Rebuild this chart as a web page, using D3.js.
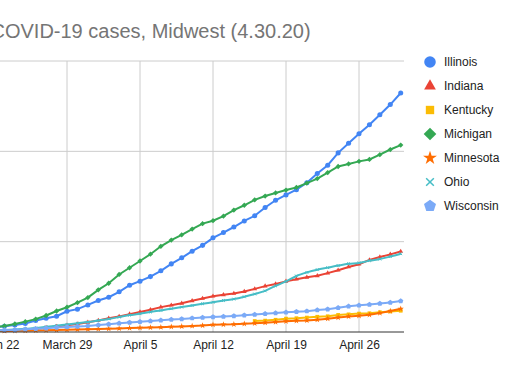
<!DOCTYPE html>
<html>
<head>
<meta charset="utf-8">
<script src="https://cdn.jsdelivr.net/npm/d3@7"></script>
<style>
  body { margin: 0; background: #fff; }
  svg { font-family: Arial, "Liberation Sans", sans-serif; display: block; }
</style>
</head>
<body>
<svg id="chart" width="520" height="371"></svg>
<script>
// days run from March 20 to April 30, 2020
const firstDay = new Date(2020, 2, 20);
const lastDay = new Date(2020, 3, 30);
const days = d3.timeDay.range(firstDay, d3.timeDay.offset(lastDay, 1));

const states = ['Illinois', 'Indiana', 'Kentucky', 'Michigan', 'Minnesota', 'Ohio', 'Wisconsin'];

const illinois = [585, 753, 1049, 1285, 1535, 1865, 2538, 3024, 3491, 4596, 5057, 5994,
  6980, 7695, 8904, 10357, 11256, 12262, 13549, 15078, 16422, 17887,
  19180, 20852, 22025, 23247, 24593, 25733, 27575, 29160, 30357, 31508,
  33059, 35108, 36934, 39658, 41777, 43903, 45883, 48102, 50355, 52918];
const indiana = [79, 126, 201, 259, 365, 477, 645, 981, 1232, 1513, 1786, 2159,
  2565, 3039, 3437, 3953, 4411, 4944, 5507, 5943, 6351, 6907,
  7435, 7928, 8236, 8527, 8960, 9542, 10154, 10641, 11210, 11686,
  12097, 12438, 13039, 13680, 14395, 15012, 15961, 16588, 17182, 17835];
const kentucky = [null, null, null, null, null, null, null, null, null, null, null, null,
  null, null, null, null, null, null, null, null, null, null,
  null, null, null, null, null, 2429, 2522, 2707, 2960, 3050,
  3192, 3373, 3481, 3779, 3905, 4074, 4146, 4375, 4539, 4708];
const michigan = [549, 787, 1035, 1328, 1791, 2294, 2856, 3657, 4650, 5486, 6498, 7615,
  9334, 10791, 12744, 14225, 15718, 17221, 18970, 20346, 21504, 22783,
  23993, 24638, 25635, 27001, 28059, 29263, 30100, 30791, 31424, 32000,
  32967, 33966, 35291, 36641, 37203, 37778, 38210, 39262, 40399, 41379];
const minnesota = [115, 138, 169, 235, 262, 287, 346, 398, 441, 503, 576, 629,
  689, 742, 789, 865, 935, 986, 1069, 1154, 1242, 1336,
  1427, 1621, 1650, 1695, 1809, 1912, 2071, 2213, 2356, 2470,
  2567, 2721, 2942, 3185, 3446, 3602, 3816, 4181, 4644, 5136];
const ohio = [169, 247, 351, 442, 564, 704, 867, 1137, 1406, 1653, 1933, 2199,
  2547, 2902, 3312, 3739, 4043, 4450, 4782, 5148, 5512, 5878,
  6250, 6604, 6975, 7285, 7794, 8414, 9107, 10222, 11200, 12400,
  13200, 13800, 14250, 14700, 15100, 15300, 15800, 16150, 16700, 17330];
const wisconsin = [206, 281, 381, 416, 457, 585, 707, 842, 989, 1112, 1221, 1351,
  1550, 1730, 1916, 2112, 2267, 2440, 2578, 2756, 2885, 3068,
  3213, 3341, 3428, 3555, 3721, 3875, 4045, 4199, 4346, 4499,
  4620, 4845, 5052, 5356, 5687, 5911, 6081, 6289, 6520, 6854];

const xTicks = [new Date(2020, 2, 22), new Date(2020, 2, 29), new Date(2020, 3, 5),
  new Date(2020, 3, 12), new Date(2020, 3, 19), new Date(2020, 3, 26)];
const yTicks = [0, 20000, 40000, 60000];

// pentagon and square diamond markers, d3 has neither
const symbolPentagon = {
  draw(ctx, size) {
    const r = Math.sqrt(size / 2.378);
    for (let i = 0; i < 5; i++) {
      const a = -Math.PI / 2 + i * 2 * Math.PI / 5;
      const px = r * Math.cos(a), py = r * Math.sin(a);
      if (i === 0) ctx.moveTo(px, py); else ctx.lineTo(px, py);
    }
    ctx.closePath();
  }
};
const symbolRhomb = {
  draw(ctx, size) {
    const r = Math.sqrt(size / 2);
    ctx.moveTo(0, -r); ctx.lineTo(r, 0); ctx.lineTo(0, r); ctx.lineTo(-r, 0);
    ctx.closePath();
  }
};

const series = [
  {name: 'Illinois', values: illinois, color: '#4285f4', shape: d3.symbolCircle, size: 20, legendSize: 105},
  {name: 'Indiana', values: indiana, color: '#ea4335', shape: d3.symbolTriangle, size: 10, legendSize: 60},
  {name: 'Kentucky', values: kentucky, color: '#fbbc04', shape: d3.symbolSquare, size: 14, legendSize: 70},
  {name: 'Michigan', values: michigan, color: '#34a853', shape: symbolRhomb, size: 14, legendSize: 80},
  {name: 'Minnesota', values: minnesota, color: '#ff6d01', shape: d3.symbolStar, size: 12, legendSize: 60},
  {name: 'Ohio', values: ohio, color: '#46bdc6', shape: d3.symbolX, size: 6, legendSize: 40, stroke: true},
  {name: 'Wisconsin', values: wisconsin, color: '#7baaf7', shape: symbolPentagon, size: 18, legendSize: 95}
];

const svg = d3.select('#chart');
const plotTop = 61, plotBottom = 332, plotRight = 404;

const x = d3.scaleTime()
  .domain([new Date(2020, 2, 29), new Date(2020, 3, 26)])
  .range([67, 359]);
const y = d3.scaleLinear().domain([0, 60000]).range([plotBottom, plotTop]);

svg.append('rect').attr('width', 520).attr('height', 371).attr('fill', '#fff');

// title (cut off on the left like the source)
svg.append('text')
  .attr('x', -9.5)
  .attr('y', 38)
  .attr('fill', '#757575')
  .style('font-size', '20px')
  .text('COVID-19 cases, Midwest (4.30.20)');

// grid
svg.append('g').selectAll('line').data(yTicks.slice(1)).join('line')
  .attr('x1', -20).attr('x2', plotRight)
  .attr('y1', d => y(d)).attr('y2', d => y(d))
  .attr('stroke', '#cccccc');
svg.append('g').selectAll('line').data(xTicks).join('line')
  .attr('x1', d => x(d)).attr('x2', d => x(d))
  .attr('y1', plotTop).attr('y2', plotBottom)
  .attr('stroke', '#cccccc');

// x axis labels
const xAxis = d3.axisBottom(x)
  .tickValues(xTicks)
  .tickFormat(d3.timeFormat('%B %-d'))
  .tickSize(0)
  .tickPadding(8);
const xAxisG = svg.append('g').attr('transform', `translate(0, ${plotBottom})`).call(xAxis);
xAxisG.select('.domain').remove();
xAxisG.selectAll('text').style('font-size', '12px').attr('fill', '#222');

// lines
series.forEach(s => {
  const pts = days.map((d, i) => ({date: d, v: s.values[i]}));
  const line = d3.line()
    .defined(d => d.v != null)
    .x(d => x(d.date))
    .y(d => y(d.v));
  if (s.name === 'Ohio') line.curve(d3.curveMonotoneX);
  svg.append('path')
    .datum(pts)
    .attr('fill', 'none')
    .attr('stroke', s.color)
    .attr('stroke-width', 2)
    .attr('d', line);
  const sym = d3.symbol().type(s.shape).size(s.size);
  svg.append('g').selectAll('path').data(pts.filter(d => d.v != null)).join('path')
    .attr('transform', d => `translate(${x(d.date)},${y(d.v)})`)
    .attr('d', sym)
    .attr('fill', s.stroke ? 'none' : s.color)
    .attr('stroke', s.stroke ? s.color : 'none')
    .attr('stroke-width', 1);
});

// baseline
svg.append('line')
  .attr('x1', -20).attr('x2', plotRight)
  .attr('y1', plotBottom).attr('y2', plotBottom)
  .attr('stroke', '#333').attr('stroke-width', 1);

// legend
const legend = svg.append('g').selectAll('g').data(series).join('g')
  .attr('transform', (d, i) => `translate(430, ${62 + i * 24})`);
legend.append('path')
  .attr('d', d => d3.symbol().type(d.shape).size(d.legendSize)())
  .attr('fill', d => d.stroke ? 'none' : d.color)
  .attr('stroke', d => d.stroke ? d.color : 'none')
  .attr('stroke-width', 1.5);
legend.append('text')
  .attr('x', 14)
  .attr('dy', '0.35em')
  .attr('fill', '#222')
  .style('font-size', '12px')
  .text(d => d.name);
</script>
</body>
</html>
